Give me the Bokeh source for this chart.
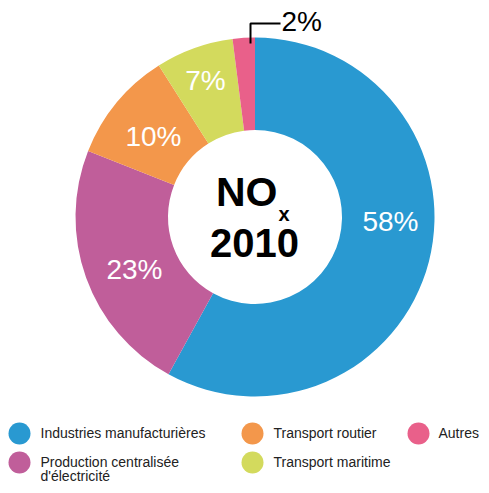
import math
from bokeh.plotting import figure
from bokeh.models import Range1d, ColumnDataSource
from bokeh.core.properties import value
from bokeh.embed import file_html
from bokeh.resources import INLINE

# ---- data ----
categories = ["Industries manufacturières", "Production centralisée\nd'électricité",
              "Transport routier", "Transport maritime", "Autres"]
shares = [58, 23, 10, 7, 2]
colors = ["#2999d1", "#c05e9a", "#f3974b", "#d3da5d", "#e9608a"]
pct_labels = ["58%", "23%", "10%", "7%", "2%"]
title_main = "NO"
title_sub = "x"
title_year = "2010"

# ---- layout (picture pixel coordinates, converted below) ----
W, H = 481, 485
FONT = "Liberation Sans"


def X(xw):
    return xw


def Y(yw):
    return H - yw


cx, cy = 254.5, 216.5
r_in, r_out = 87, 179.5

p = figure(width=W, height=H, output_backend="svg", toolbar_location=None,
           x_range=Range1d(0, W), y_range=Range1d(0, H), min_border=0)
p.axis.visible = False
p.grid.visible = False
p.outline_line_color = None
p.background_fill_color = "white"
p.border_fill_color = "white"

total = float(sum(shares))
starts, ends = [], []
cum = 0.0
for v in shares:
    starts.append(math.pi / 2 - 2 * math.pi * cum / total)
    cum += v
    ends.append(math.pi / 2 - 2 * math.pi * cum / total)

src = ColumnDataSource(dict(x=[X(cx)] * len(shares), y=[Y(cy)] * len(shares),
                            start=starts, end=ends, color=colors))
p.annular_wedge(x="x", y="y", inner_radius=r_in, outer_radius=r_out,
                start_angle="start", end_angle="end", direction="clock",
                fill_color="color", line_color=None, source=src)

# percentage labels (visual-centre positions)
label_pos = [(390, 221, "center"), (134, 268.5, "center"), (153, 136, "center"),
             (205, 80, "center"), (281, 21, "left")]
label_colors = ["white", "white", "white", "white", "black"]
for (lx, ly, al), txt, c in zip(label_pos, pct_labels, label_colors):
    p.text(x=[X(lx)], y=[Y(ly)], text=[txt], text_color=c, text_align=al,
           text_baseline="middle", text_font=value(FONT), text_font_size="28px")

# leader line for small slice
p.line(x=[X(250), X(250), X(280)], y=[Y(43), Y(23), Y(23)], line_color="black",
       line_width=2)

# center title
p.text(x=[X(277)], y=[Y(191)], text=[title_main], text_align="right",
       text_baseline="middle", text_font=value(FONT), text_font_style="bold",
       text_font_size="41px", text_color="black")
p.text(x=[X(278)], y=[Y(213)], text=[title_sub], text_align="left",
       text_baseline="middle", text_font=value(FONT), text_font_style="bold",
       text_font_size="20px", text_color="black")
p.text(x=[X(254)], y=[Y(242)], text=[title_year], text_align="center",
       text_baseline="middle", text_font=value(FONT), text_font_style="bold",
       text_font_size="40px", text_color="black")

# legend
legend_order = [0, 2, 4, 1, 3]
legend_cells = [(19, 40, 433), (252, 273, 433), (418, 438, 433),
                (19, 40, 462), (252, 273, 462)]
for idx, (cxw, txw, yw) in zip(legend_order, legend_cells):
    p.scatter(x=[X(cxw)], y=[Y(yw)], size=22, marker="circle",
              fill_color=colors[idx], line_color=None)
    lines = categories[idx].split("\n")
    for k, ln in enumerate(lines):
        p.text(x=[X(txw)], y=[Y(yw - 0.5 + 14 * k)], text=[ln], text_align="left",
               text_baseline="middle", text_font=value(FONT),
               text_font_size="14px", text_color="#222222")

open("out.html", "w").write(file_html(p, INLINE))
